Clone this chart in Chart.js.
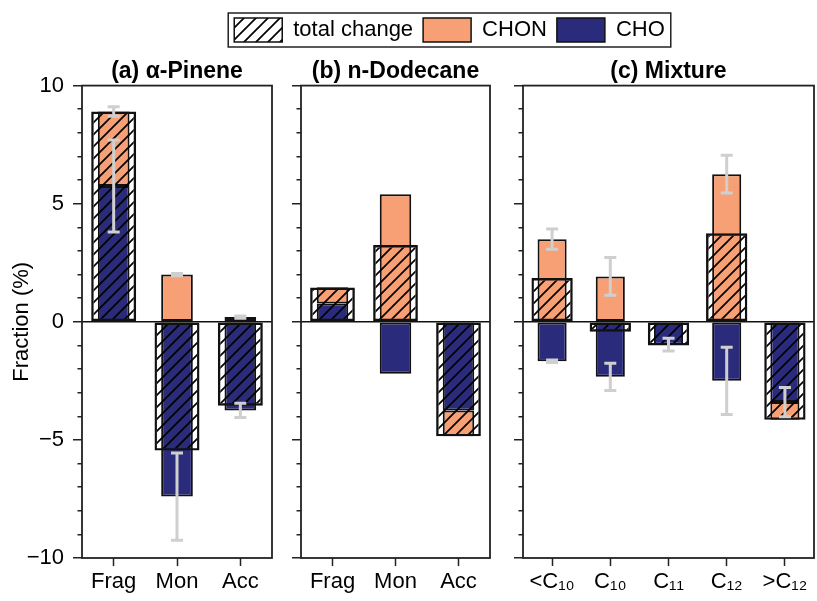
<!DOCTYPE html>
<html lang="en">
<head>
  <meta charset="UTF-8">
  <title>Fraction change by product class</title>
  <script src="https://cdn.jsdelivr.net/npm/chart.js"></script>
  <style>
    html, body { margin: 0; padding: 0; background: #fff; }
    body { width: 817px; height: 601px; position: relative; overflow: hidden; }
    canvas { position: absolute; }
  </style>
</head>
<body>
  <canvas id="legendChart" width="735" height="48" style="left:82px;top:0px"></canvas>
  <canvas id="chartA" width="280" height="553" style="left:0px;top:48px"></canvas>
  <canvas id="chartB" width="209" height="553" style="left:291px;top:48px"></canvas>
  <canvas id="chartC" width="304" height="553" style="left:513px;top:48px"></canvas>

  <script>
    // series names
    const seriesNames = ['total change', 'CHON', 'CHO'];

    // (a) alpha-pinene
    const catsA = ['Frag', 'Mon', 'Acc'];
    const totalA = [8.9, -5.45, -3.55];
    const chonA = [3.15, 2.0, 0.2];
    const choA = [5.75, -7.4, -3.75];
    const errChonA = [0.2, 0.05, 0.05];
    const errChoA = [1.95, 1.85, 0.3];

    // (b) n-dodecane
    const catsB = ['Frag', 'Mon', 'Acc'];
    const totalB = [1.45, 3.25, -4.85];
    const chonB = [0.68, 5.4, -1.1];
    const choB = [0.78, -2.2, -3.75];
    const errChonB = [0, 0, 0];
    const errChoB = [0, 0, 0];

    // (c) mixture
    const catsC = ['<C\u2081\u2080', 'C\u2081\u2080', 'C\u2081\u2081', 'C\u2081\u2082', '>C\u2081\u2082'];
    const totalC = [1.85, -0.42, -1.0, 3.75, -4.15];
    const chonC = [3.5, 1.92, 0, 6.25, -0.75];
    const choC = [-1.67, -2.33, -0.97, -2.5, -3.4];
    const errChonC = [0.43, 0.8, 0, 0.8, 0];
    const errChoC = [0.05, 0.58, 0.27, 1.42, 0.62];

    const yTicksMajor = [-10, -5, 0, 5, 10];

    Chart.defaults.font.family = '"Liberation Sans", Arial, sans-serif';
    Chart.defaults.font.size = 22;
    Chart.defaults.color = '#000';

    const NAVY = '#2b2b7b';
    const SALMON = '#f7a076';
    const EDGE = '#111';
    const AXIS = '#222';

    // diagonal hatch for the "total change" bars
    function makeHatch() {
      const s = 12;
      const c = document.createElement('canvas');
      c.width = s; c.height = s;
      const g = c.getContext('2d');
      g.strokeStyle = '#000';
      g.lineWidth = 1.7;
      g.beginPath();
      g.moveTo(0, s); g.lineTo(s, 0);
      g.moveTo(-2, 2); g.lineTo(2, -2);
      g.moveTo(s - 2, s + 2); g.lineTo(s + 2, s - 2);
      g.stroke();
      return document.createElement('canvas').getContext('2d').createPattern(c, 'repeat');
    }
    const hatch = makeHatch();

    // box round the plot area
    const frame = {
      id: 'frame',
      afterDraw(chart) {
        const a = chart.chartArea, ctx = chart.ctx;
        ctx.save();
        ctx.strokeStyle = AXIS;
        ctx.lineWidth = 1.8;
        ctx.strokeRect(a.left, a.top, a.right - a.left, a.bottom - a.top);
        ctx.restore();
      }
    };

    // grey error bars at the end of each stacked segment
    const errorBars = {
      id: 'errorBars',
      afterDatasetsDraw(chart) {
        const ctx = chart.ctx, y = chart.scales.y;
        chart.data.datasets.forEach((ds, i) => {
          if (!ds.errorBars) return;
          chart.getDatasetMeta(i).data.forEach((bar, j) => {
            const e = ds.errorBars[j];
            if (!e) return;
            const v = y.getValueForPixel(bar.y);
            const y1 = y.getPixelForValue(v + e), y2 = y.getPixelForValue(v - e);
            ctx.save();
            ctx.strokeStyle = '#cfcfcf';
            ctx.lineWidth = 3;
            ctx.beginPath();
            ctx.moveTo(bar.x, y1); ctx.lineTo(bar.x, y2);
            ctx.moveTo(bar.x - 6, y1); ctx.lineTo(bar.x + 6, y1);
            ctx.moveTo(bar.x - 6, y2); ctx.lineTo(bar.x + 6, y2);
            ctx.stroke();
            ctx.restore();
          });
        });
      }
    };

    const fmt = v => v < 0 ? '\u2212' + Math.abs(v) : String(v);

    function panel(id, title, cats, total, chon, cho, errChon, errCho, opt) {
      new Chart(document.getElementById(id), {
        type: 'bar',
        data: {
          labels: cats,
          datasets: [
            { label: seriesNames[0], data: total, stack: 'total', order: 0,
              backgroundColor: hatch, borderColor: EDGE, borderWidth: 2.4, borderSkipped: false,
              grouped: false, barPercentage: 0.71, categoryPercentage: 1 },
            { label: seriesNames[1], data: chon, stack: 'parts', order: 2, errorBars: errChon,
              backgroundColor: SALMON, borderColor: EDGE, borderWidth: 2, borderSkipped: false,
              grouped: false, barPercentage: 0.5, categoryPercentage: 1 },
            { label: seriesNames[2], data: cho, stack: 'parts', order: 1, errorBars: errCho,
              backgroundColor: NAVY, borderColor: EDGE, borderWidth: 2, borderSkipped: false,
              grouped: false, barPercentage: 0.5, categoryPercentage: 1 }
          ]
        },
        options: {
          responsive: false,
          animation: false,
          layout: { padding: { left: 0, right: opt.padRight, top: 0, bottom: 0 } },
          plugins: {
            legend: { display: false },
            tooltip: { enabled: false },
            title: { display: true, text: title, fullSize: false, color: '#000',
                     font: { size: 23, weight: 'bold' }, padding: { top: 10, bottom: 0 } }
          },
          scales: {
            x: {
              border: { display: false },
              grid: { offset: false, drawOnChartArea: false, tickLength: 8, tickColor: AXIS, tickWidth: 1.5 },
              ticks: { autoSkip: false, maxRotation: 0, minRotation: 0, padding: 3, color: '#000' },
              afterFit: s => { s.height = 43; }
            },
            y: {
              stacked: true,
              min: -10, max: 10,
              border: { display: false },
              grid: {
                drawOnChartArea: true,
                color: c => (c.tick && c.tick.value === 0) ? EDGE : 'rgba(0,0,0,0)',
                lineWidth: 1.5,
                tickLength: 9,
                tickColor: AXIS,
                tickWidth: 1.5,
                tickBorderDash: c => (c.tick && yTicksMajor.indexOf(c.tick.value) < 0) ? [0, 4.5, 20] : []
              },
              ticks: {
                stepSize: 1, autoSkip: false, padding: 9, color: '#000',
                callback: v => (opt.labels && yTicksMajor.indexOf(v) >= 0) ? fmt(v) : ''
              },
              title: { display: !!opt.labels, text: 'Fraction (%)', color: '#000',
                       font: { size: 22 }, padding: { top: 9, bottom: 0 } },
              afterFit: s => { s.width = opt.yWidth; }
            }
          }
        },
        plugins: [frame, errorBars]
      });
    }

    panel('chartA', '(a) \u03b1-Pinene', catsA, totalA, chonA, choA, errChonA, errChoA,
          { labels: true, yWidth: 82, padRight: 8 });
    panel('chartB', '(b) n-Dodecane', catsB, totalB, chonB, choB, errChonB, errChoB,
          { labels: false, yWidth: 10, padRight: 10 });
    panel('chartC', '(c) Mixture', catsC, totalC, chonC, choC, errChonC, errChoC,
          { labels: false, yWidth: 10, padRight: 3 });

    // legend strip above the panels
    const legendFrame = {
      id: 'legendFrame',
      afterDraw(chart) {
        const boxes = chart.legend.legendHitBoxes;
        if (!boxes.length) return;
        let l = Infinity, r = -Infinity, cy = boxes[0].top + boxes[0].height / 2;
        boxes.forEach(b => { l = Math.min(l, b.left); r = Math.max(r, b.left + b.width); });
        const ctx = chart.ctx;
        ctx.save();
        ctx.strokeStyle = AXIS;
        ctx.lineWidth = 1.5;
        ctx.strokeRect(l - 6, cy - 17, r - l + 12, 34);
        ctx.restore();
      }
    };

    new Chart(document.getElementById('legendChart'), {
      type: 'bar',
      data: {
        labels: [],
        datasets: [
          { label: seriesNames[0], data: [], backgroundColor: hatch, borderColor: EDGE, borderWidth: 1.5 },
          { label: seriesNames[1], data: [], backgroundColor: SALMON, borderColor: EDGE, borderWidth: 1.5 },
          { label: seriesNames[2], data: [], backgroundColor: NAVY, borderColor: EDGE, borderWidth: 1.5 }
        ]
      },
      options: {
        responsive: false,
        animation: false,
        layout: { padding: { top: 8 } },
        scales: { x: { display: false }, y: { display: false } },
        plugins: {
          tooltip: { enabled: false },
          legend: {
            maxHeight: 48,
            labels: { boxWidth: 48, boxHeight: 24, padding: 10, color: '#000', font: { size: 22 } }
          }
        }
      },
      plugins: [legendFrame]
    });
  </script>
</body>
</html>
